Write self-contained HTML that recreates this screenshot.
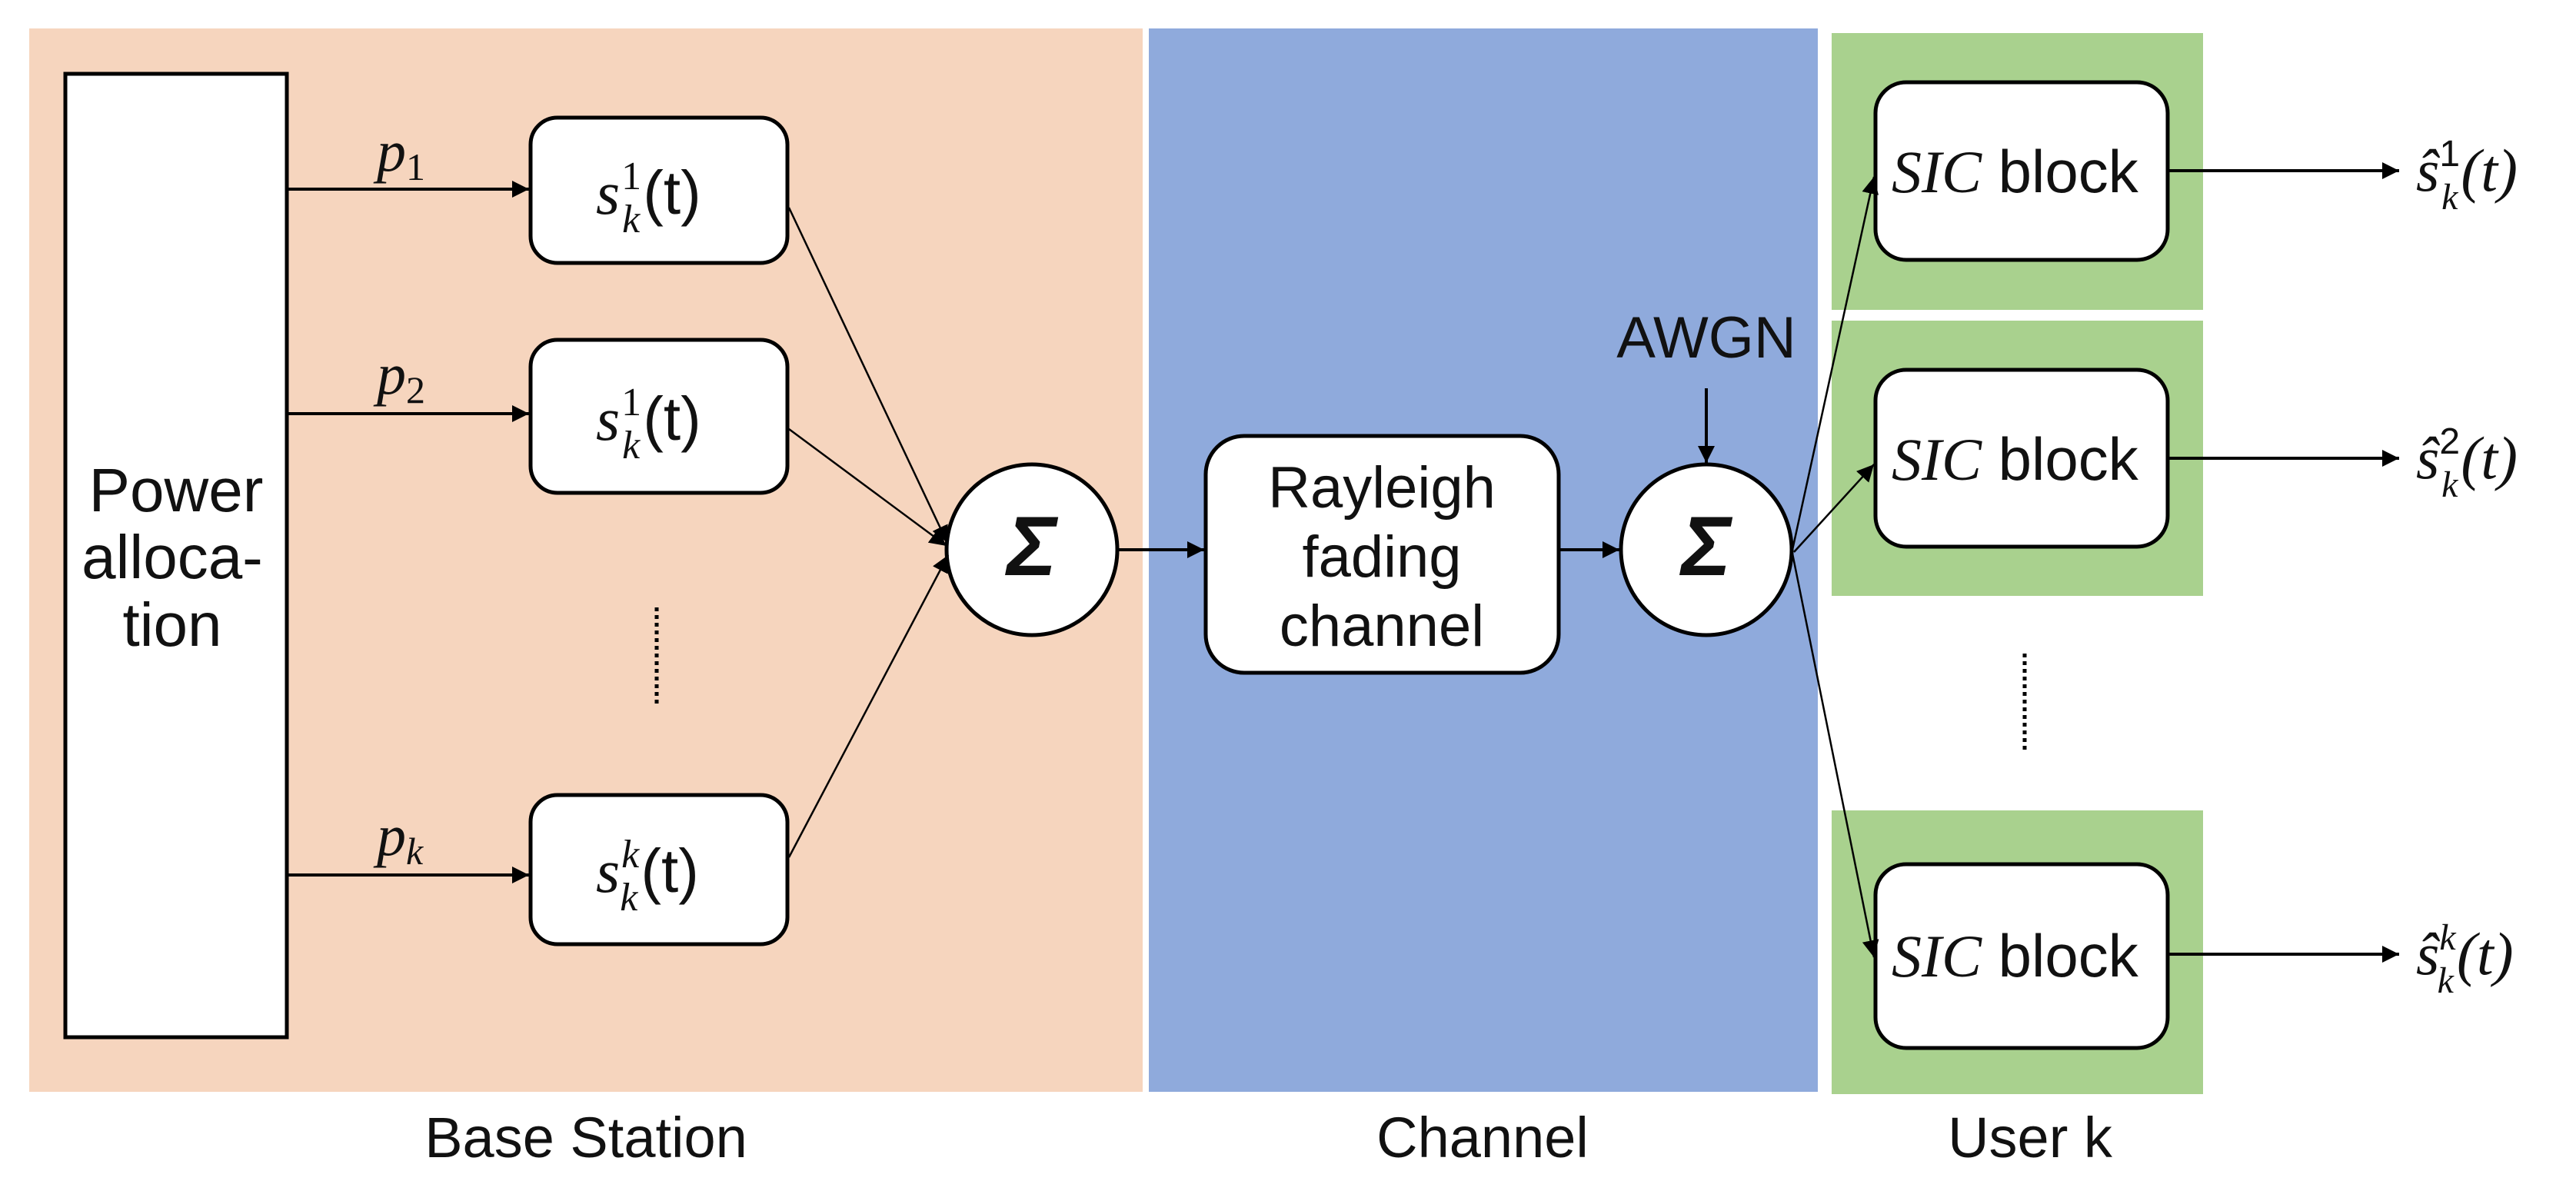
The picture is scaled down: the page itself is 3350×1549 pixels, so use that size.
<!DOCTYPE html>
<html><head><meta charset="utf-8"><style>
html,body{margin:0;padding:0;background:#fff;}
svg{display:block;}
text{font-family:"Liberation Sans",sans-serif;fill:#111;}
.m{font-family:"Liberation Serif",serif;font-style:italic;}
</style></head><body>
<svg width="3350" height="1549" viewBox="0 0 3350 1549" xmlns="http://www.w3.org/2000/svg">
<defs>
<marker id="a" viewBox="0 0 10 10" refX="10" refY="5" markerWidth="22" markerHeight="22" markerUnits="userSpaceOnUse" orient="auto"><path d="M0,0L10,5L0,10z" fill="#000"/></marker>
</defs>
<rect x="38" y="37" width="1448" height="1383" fill="#f6d5be"/>
<rect x="1494" y="37" width="870" height="1383" fill="#8faadc"/>
<rect x="2382" y="43" width="483" height="360" fill="#a9d18e"/>
<rect x="2382" y="417" width="483" height="358" fill="#a9d18e"/>
<rect x="2382" y="1054" width="483" height="369" fill="#a9d18e"/>

<rect x="85" y="96" width="288" height="1253" fill="#fff" stroke="#000" stroke-width="5"/>
<text x="229" y="665" font-size="80" text-anchor="middle">Power</text>
<text x="224" y="752" font-size="80" text-anchor="middle">alloca-</text>
<text x="224" y="840" font-size="80" text-anchor="middle">tion</text>

<g fill="#fff" stroke="#000" stroke-width="5">
<rect x="690" y="153" width="334" height="189" rx="35"/>
<rect x="690" y="442" width="334" height="199" rx="35"/>
<rect x="690" y="1034" width="334" height="194" rx="35"/>
<rect x="1568" y="567" width="459" height="308" rx="50"/>
<circle cx="1342" cy="715" r="111"/>
<circle cx="2219" cy="715" r="111"/>
<rect x="2439" y="107" width="380" height="231" rx="40"/>
<rect x="2439" y="481" width="380" height="230" rx="40"/>
<rect x="2439" y="1124" width="380" height="239" rx="40"/>
</g>

<g stroke="#000" stroke-width="4" fill="none" marker-end="url(#a)">
<line x1="373" y1="246" x2="688" y2="246"/>
<line x1="373" y1="538" x2="688" y2="538"/>
<line x1="373" y1="1138" x2="688" y2="1138"/>
<line x1="1452" y1="715" x2="1566" y2="715"/>
<line x1="2027" y1="715" x2="2106" y2="715"/>
<line x1="2219" y1="505" x2="2219" y2="602"/>
<line x1="2819" y1="222" x2="3120" y2="222"/>
<line x1="2819" y1="596" x2="3120" y2="596"/>
<line x1="2819" y1="1241" x2="3120" y2="1241"/>
</g>
<g stroke="#000" stroke-width="2.5" fill="none" marker-end="url(#a)">
<line x1="1026" y1="270" x2="1232" y2="706"/>
<line x1="1026" y1="558" x2="1231" y2="710"/>
<line x1="1026" y1="1115" x2="1233" y2="722"/>
<line x1="2331" y1="715" x2="2437" y2="230"/>
<line x1="2333" y1="718" x2="2437" y2="604"/>
<line x1="2331" y1="720" x2="2437" y2="1245"/>
</g>
<line x1="854" y1="790" x2="854" y2="915" stroke="#000" stroke-width="5" stroke-dasharray="5,5"/>
<line x1="2633" y1="850" x2="2633" y2="975" stroke="#000" stroke-width="5" stroke-dasharray="5,5"/>

<text class="m" x="490" y="222" font-size="76">p<tspan font-size="50" dy="12" font-style="normal">1</tspan></text>
<text class="m" x="490" y="512" font-size="76">p<tspan font-size="50" dy="12" font-style="normal">2</tspan></text>
<text class="m" x="490" y="1112" font-size="76">p<tspan font-size="50" dy="12">k</tspan></text>

<g font-size="80">
<text x="775" y="278"><tspan class="m">s</tspan><tspan font-size="52" dx="2" dy="-32" font-family="Liberation Serif">1</tspan><tspan font-size="52" class="m" dx="-25" dy="56">k</tspan><tspan dx="4" dy="-24">(t)</tspan></text>
<text x="775" y="572"><tspan class="m">s</tspan><tspan font-size="52" dx="2" dy="-32" font-family="Liberation Serif">1</tspan><tspan font-size="52" class="m" dx="-25" dy="56">k</tspan><tspan dx="4" dy="-24">(t)</tspan></text>
<text x="775" y="1160"><tspan class="m">s</tspan><tspan font-size="52" class="m" dx="2" dy="-32">k</tspan><tspan font-size="52" class="m" dx="-25" dy="56">k</tspan><tspan dx="4" dy="-24">(t)</tspan></text>
</g>

<text x="1342" y="748" font-size="110" font-weight="bold" font-style="italic" text-anchor="middle" font-family="Liberation Serif">Σ</text>
<text x="2219" y="748" font-size="110" font-weight="bold" font-style="italic" text-anchor="middle" font-family="Liberation Serif">Σ</text>

<text x="1797" y="660" font-size="76" text-anchor="middle">Rayleigh</text>
<text x="1797" y="750" font-size="76" text-anchor="middle">fading</text>
<text x="1797" y="840" font-size="76" text-anchor="middle">channel</text>
<text x="2219" y="465" font-size="76" text-anchor="middle">AWGN</text>

<g font-size="78">
<text x="2460" y="250"><tspan class="m">SIC</tspan> block</text>
<text x="2460" y="624"><tspan class="m">SIC</tspan> block</text>
<text x="2460" y="1270"><tspan class="m">SIC</tspan> block</text>
</g>

<g font-size="78" font-family="Liberation Serif">
<text x="3142" y="248"><tspan class="m">ŝ</tspan><tspan font-size="48" dx="0" dy="-32">1</tspan><tspan font-size="48" class="m" dx="-24" dy="56">k</tspan><tspan class="m" dx="4" dy="-24">(t)</tspan></text>
<text x="3142" y="622"><tspan class="m">ŝ</tspan><tspan font-size="48" dx="0" dy="-32">2</tspan><tspan font-size="48" class="m" dx="-24" dy="56">k</tspan><tspan class="m" dx="4" dy="-24">(t)</tspan></text>
<text x="3142" y="1267"><tspan class="m">ŝ</tspan><tspan font-size="48" class="m" dx="0" dy="-32">k</tspan><tspan font-size="48" class="m" dx="-24" dy="56">k</tspan><tspan class="m" dx="4" dy="-24">(t)</tspan></text>
</g>

<text x="762" y="1505" font-size="74" text-anchor="middle">Base Station</text>
<text x="1928" y="1505" font-size="74" text-anchor="middle">Channel</text>
<text x="2640" y="1505" font-size="74" text-anchor="middle">User k</text>
</svg>
</body></html>
